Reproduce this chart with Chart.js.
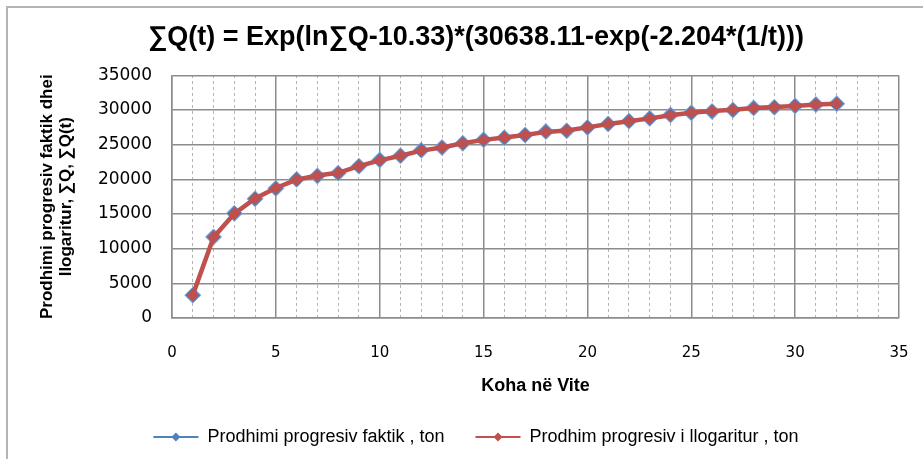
<!DOCTYPE html>
<html lang="sq">
<head>
    <meta charset="UTF-8">
    <title>Prodhimi progresiv</title>
    <script src="https://cdn.jsdelivr.net/npm/chart.js"></script>
    <style>
        html, body { margin: 0; padding: 0; background: #fff; overflow: hidden; }
        .wrap { position: relative; width: 923px; height: 459px; }
        .frame {
            position: absolute; left: 6px; top: 6px; width: 1000px; height: 600px;
            border-left: 2px solid #b4b4b4; border-top: 2px solid #b4b4b4;
        }
        canvas { position: absolute; left: 0; top: 0; }
    </style>
</head>
<body>
    <div class="wrap">
        <div class="frame"></div>
        <canvas id="chart" width="923" height="459"></canvas>
    </div>

    <script>
        // data
        const years = [1,2,3,4,5,6,7,8,9,10,11,12,13,14,15,16,17,18,19,20,21,22,23,24,25,26,27,28,29,30,31,32];
        const faktik = [3300,11700,15100,17200,18700,20000,20500,20900,21900,22800,23400,24200,24600,25200,25700,26000,
                        26400,26900,27000,27500,28000,28400,28800,29300,29600,29800,30000,30300,30400,30600,30800,30900];
        const llogaritur = [3300,11650,15050,17250,18750,19950,20550,20950,21900,22750,23400,24150,24600,25200,25700,26050,
                            26400,26850,27050,27500,28000,28400,28800,29250,29600,29850,30050,30300,30450,30600,30800,30900];
        const seriesNames = ['Prodhimi progresiv faktik , ton', 'Prodhim progresiv i llogaritur , ton'];
        const seriesColors = ['#4f81bd', '#c0504d'];
        const chartTitle = '∑Q(t) = Exp(ln∑Q-10.33)*(30638.11-exp(-2.204*(1/t)))';
        const yTitle = ['Prodhimi progresiv faktik dhei', 'llogaritur, ∑Q, ∑Q(t)'];
        const xTitle = 'Koha në Vite';

        const toPoints = vals => vals.map((v, i) => ({ x: years[i], y: v }));

        // diamonds in the legend, on top of the line sample
        const legendDiamonds = {
            id: 'legendDiamonds',
            afterDraw(chart) {
                const lg = chart.legend;
                if (!lg || !lg.legendHitBoxes) return;
                const ctx = chart.ctx;
                const bw = lg.options.labels.boxWidth;
                lg.legendHitBoxes.forEach((hb, i) => {
                    const cx = hb.left + bw / 2;
                    const cy = hb.top + hb.height / 2;
                    const r = 4.5;
                    ctx.save();
                    ctx.fillStyle = seriesColors[i];
                    ctx.beginPath();
                    ctx.moveTo(cx, cy - r);
                    ctx.lineTo(cx + r, cy);
                    ctx.lineTo(cx, cy + r);
                    ctx.lineTo(cx - r, cy);
                    ctx.closePath();
                    ctx.fill();
                    ctx.restore();
                });
            }
        };

        new Chart(document.getElementById('chart').getContext('2d'), {
            type: 'line',
            data: {
                datasets: [{
                    label: seriesNames[0],
                    data: toPoints(faktik),
                    borderColor: seriesColors[0],
                    backgroundColor: seriesColors[0],
                    borderWidth: 2,
                    pointStyle: 'rectRot',
                    pointRadius: 8,
                    pointBorderWidth: 1,
                    pointBorderColor: '#86acdc',
                    order: 2
                }, {
                    label: seriesNames[1],
                    data: toPoints(llogaritur),
                    borderColor: seriesColors[1],
                    backgroundColor: seriesColors[1],
                    borderWidth: 4.5,
                    pointStyle: 'rectRot',
                    pointRadius: 3,
                    order: 1
                }]
            },
            options: {
                responsive: false,
                animation: false,
                layout: { padding: { left: 53, right: 24, top: 0, bottom: 3 } },
                plugins: {
                    tooltip: { enabled: false },
                    title: {
                        display: true,
                        text: chartTitle,
                        color: '#000',
                        font: { family: 'Liberation Sans', size: 27, weight: 'bold' },
                        padding: { top: 21, bottom: 22 }
                    },
                    legend: {
                        position: 'bottom',
                        labels: {
                            boxWidth: 45,
                            boxHeight: 2,
                            padding: 31,
                            color: '#000',
                            font: { family: 'Liberation Sans', size: 18 },
                            generateLabels: chart => seriesNames.map((name, i) => ({
                                text: name,
                                fillStyle: seriesColors[i],
                                strokeStyle: seriesColors[i],
                                lineWidth: 0,
                                hidden: false,
                                datasetIndex: i
                            }))
                        }
                    }
                },
                scales: {
                    x: {
                        type: 'linear',
                        position: 'bottom',
                        min: 0,
                        max: 35,
                        afterFit: s => { s.height = 79; },
                        ticks: {
                            stepSize: 5,
                            padding: 0,
                            color: '#000',
                            font: { family: 'DejaVu Sans', size: 15 }
                        },
                        grid: {
                            color: '#8c8c8c', lineWidth: 1.5,
                            drawTicks: true, tickLength: 26, tickColor: 'rgba(0,0,0,0)'
                        },
                        border: { color: '#8c8c8c', width: 1.5 },
                        title: {
                            display: true,
                            text: xTitle,
                            color: '#000',
                            font: { family: 'Liberation Sans', size: 18, weight: 'bold' },
                            padding: { top: 0, bottom: 0 }
                        }
                    },
                    xMinor: {
                        type: 'linear',
                        position: 'top',
                        min: 0,
                        max: 35,
                        ticks: { stepSize: 1, display: false },
                        grid: {
                            color: ctx => (ctx.tick && ctx.tick.value % 5 === 0) ? 'rgba(0,0,0,0)' : '#b4b4b4',
                            lineWidth: 1,
                            drawTicks: false
                        },
                        border: { display: false, dash: [3, 3] }
                    },
                    y: {
                        min: 0,
                        max: 35000,
                        afterFit: s => { s.width = 119; },
                        ticks: {
                            stepSize: 5000,
                            padding: 20,
                            color: '#000',
                            font: { family: 'DejaVu Sans', size: 17 },
                            callback: v => String(v)
                        },
                        grid: { color: '#8c8c8c', lineWidth: 1.5, drawTicks: false },
                        border: { color: '#8c8c8c', width: 1.5 },
                        title: {
                            display: true,
                            text: yTitle,
                            color: '#000',
                            font: { family: 'Liberation Sans', size: 17, weight: 'bold', lineHeight: 1.1 },
                            padding: { top: -15, bottom: 0 }
                        }
                    }
                }
            },
            plugins: [legendDiamonds]
        });
    </script>
</body>
</html>
